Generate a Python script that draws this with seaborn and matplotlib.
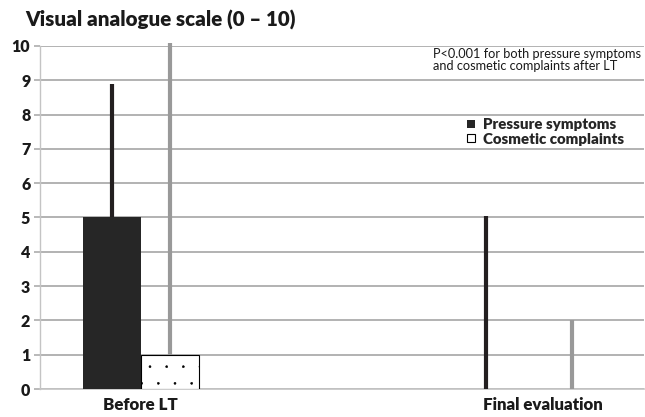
import pandas as pd
import matplotlib.pyplot as plt
import matplotlib.hatch as mhatch
import seaborn as sns

# values (VAS 0-10)
groups = ["Before LT", "Final evaluation"]
slots = ["Before LT", " ", "Final evaluation"]   # middle slot is empty in the original
series = ["Pressure symptoms", "Cosmetic complaints"]
pressure_mean = [5.0, 0.0]
pressure_top = [8.9, 5.05]
cosmetic_mean = [1.0, 0.0]
cosmetic_top = [10.07, 2.0]
note = "P<0.001 for both pressure symptoms\nand cosmetic complaints after LT"

df = pd.DataFrame({
    "group": groups * 2,
    "series": [series[0]] * 2 + [series[1]] * 2,
    "vas": pressure_mean + cosmetic_mean,
    "top": pressure_top + cosmetic_top,
})

bar_colors = ["#262626", "white"]
err_colors = ["#231f20", "#999999"]
# the black whisker of the final evaluation sits left of its bar in the original
err_shift = {("Pressure symptoms", "Final evaluation"): -0.14}

sns.set_theme(style="white")
plt.rcParams["font.family"] = ["Lato", "DejaVu Sans"]
plt.rcParams["hatch.linewidth"] = 0.4
mhatch.SmallFilledCircles.size = 0.06   # finer dots, like the original fill

fig = plt.figure(figsize=(6.45, 4.17), dpi=100)
ax = fig.add_axes([0.062, 0.067, 0.936, 0.823])

sns.barplot(data=df, x="group", y="vas", hue="series", order=slots, hue_order=series,
            palette=bar_colors, width=0.576, gap=0, errorbar=None, legend=False,
            saturation=1, ax=ax, zorder=3)

for i, (cont, name) in enumerate(zip(ax.containers, series)):
    sub = df[df["series"] == name].set_index("group")
    for bar in cont:
        xc = bar.get_x() + bar.get_width() / 2
        grp = slots[int(round(xc))]
        if i == 0:
            bar.set_edgecolor(bar_colors[0])
            bar.set_linewidth(0)
        else:
            bar.set_edgecolor("black")
            bar.set_hatch(".")
            bar.set_linewidth(0.8 if sub.loc[grp, "vas"] > 0 else 0)
        ax.vlines(xc + err_shift.get((name, grp), 0), sub.loc[grp, "vas"], sub.loc[grp, "top"],
                  color=err_colors[i], lw=3, zorder=4, clip_on=False)

ax.set_xlim(-0.5, 2.5)
ax.set_ylim(0, 10)
ax.set_yticks(range(11))
ax.set_yticklabels([str(v) for v in range(11)], fontsize=11.5, fontweight="heavy",
                   color="#1a1a1a")
ax.set_xticks(range(len(slots)))
ax.set_xticklabels(["Before LT", "", "Final evaluation"], fontsize=12.2, fontweight="heavy",
                   color="#1a1a1a")
ax.set_xticks([-0.5, 0.5, 1.5, 2.5], minor=True)
ax.tick_params(axis="x", which="major", length=0, pad=6)
ax.tick_params(axis="x", which="minor", length=4, color="#b0b0b0", direction="out")
ax.tick_params(axis="y", length=4, color="#b0b0b0", direction="out", pad=3, left=True)
ax.set_xlabel("")
ax.set_ylabel("")

ax.yaxis.grid(True, color="#a6a6a6", lw=1.2)
ax.set_axisbelow(True)
for side in ["top", "right"]:
    ax.spines[side].set_visible(False)
ax.spines["left"].set_color("#c4c4c4")
ax.spines["bottom"].set_color("#c4c4c4")
ax.spines["left"].set_linewidth(1)
ax.spines["bottom"].set_linewidth(1.2)

fig.text(25 / 645, 1 - 20 / 417, "Visual analogue scale (0 \u2013 10)", fontsize=14.8,
         fontweight="heavy", color="#1a1a1a", va="center", ha="left")
fig.text(433 / 645, 1 - 60 / 417, note, fontsize=9.2, color="#1a1a1a",
         va="center", ha="left", linespacing=1.1)

ax.legend(handles=[ax.containers[0][0], ax.containers[1][0]], labels=series,
          loc="upper left", bbox_to_anchor=(467 / 645, 1 - 118 / 417),
          bbox_transform=fig.transFigure, frameon=False, borderpad=0, borderaxespad=0,
          handlelength=0.55, handleheight=0.45, handletextpad=0.5, labelspacing=0.12,
          prop={"weight": "heavy", "size": 10.8})

plt.savefig("out.png", dpi=100)
plt.close()
